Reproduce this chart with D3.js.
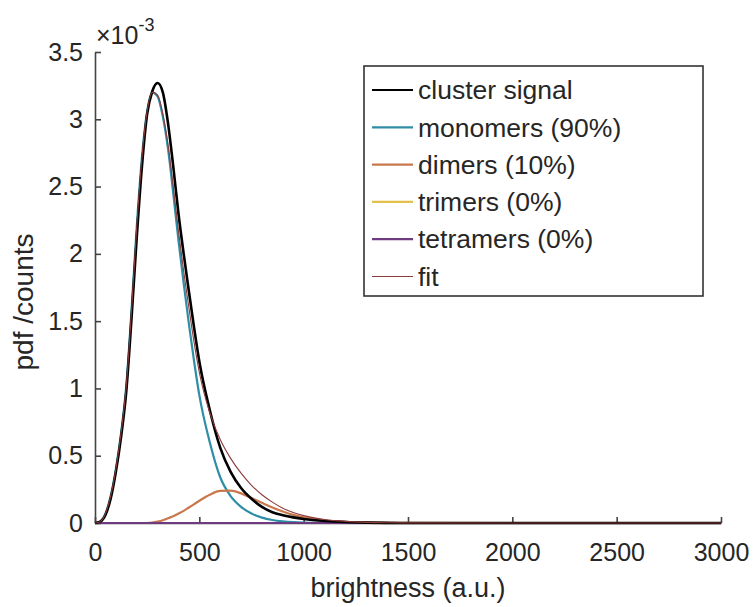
<!DOCTYPE html>
<html>
<head>
<meta charset="utf-8">
<script src="https://cdn.jsdelivr.net/npm/d3@7"></script>
<style>
  body { margin: 0; background: #fff; }
  text { font-family: "Liberation Sans", Arial, sans-serif; fill: #262626; }
</style>
</head>
<body>
<div id="chart"></div>
<script>
// brightness grid (a.u.)
var brightness = [0, 25, 50, 75, 100, 125, 150, 175, 200, 225, 250, 275, 300, 325, 350, 375, 400, 425, 450, 475, 500,
  550, 600, 650, 700, 750, 800, 850, 900, 950, 1000, 1100, 1200, 1300, 1400, 1500, 2000, 2500, 3000];

// pdf values, x 1e-3
var clusterSignal = [0, 0.01, 0.06, 0.18, 0.38, 0.64, 0.98, 1.52, 2.12, 2.65, 3.04, 3.21, 3.27, 3.2, 2.97, 2.65, 2.3, 2.0, 1.72, 1.45, 1.2,
  0.84, 0.56, 0.38, 0.26, 0.18, 0.12, 0.08, 0.058, 0.042, 0.03, 0.015, 0.007, 0.003, 0.001, 0, 0, 0, 0];
var monomers = [0, 0.01, 0.07, 0.2, 0.4, 0.67, 1.02, 1.58, 2.2, 2.72, 3.06, 3.2, 3.17, 3.02, 2.78, 2.45, 2.1, 1.78, 1.48, 1.2, 0.95,
  0.6, 0.34, 0.2, 0.12, 0.07, 0.04, 0.022, 0.012, 0.006, 0.003, 0.001, 0, 0, 0, 0, 0, 0, 0];
var dimers = [0, 0, 0, 0, 0, 0, 0, 0, 0, 0, 0, 0.003, 0.01, 0.02, 0.035, 0.05, 0.07, 0.09, 0.115, 0.14, 0.165,
  0.21, 0.238, 0.24, 0.22, 0.185, 0.15, 0.115, 0.085, 0.06, 0.042, 0.02, 0.009, 0.004, 0.0015, 0.0005, 0, 0, 0];
var trimers = brightness.map(function() { return 0; });
var tetramers = brightness.map(function() { return 0; });
var fit = [0, 0.01, 0.07, 0.2, 0.4, 0.67, 1.02, 1.58, 2.2, 2.72, 3.06, 3.2, 3.18, 3.04, 2.81, 2.5, 2.17, 1.87, 1.6, 1.34, 1.12,
  0.82, 0.62, 0.48, 0.37, 0.28, 0.21, 0.155, 0.11, 0.078, 0.055, 0.026, 0.012, 0.005, 0.002, 0.0007, 0, 0, 0];

var xTicks = [0, 500, 1000, 1500, 2000, 2500, 3000];
var yTicks = [0, 0.5, 1, 1.5, 2, 2.5, 3, 3.5];

var series = [
  {name: "cluster signal", values: clusterSignal, color: "#000000", width: 2.6, z: 4},
  {name: "monomers (90%)", values: monomers, color: "#2f8ea6", width: 2.2, z: 0},
  {name: "dimers (10%)", values: dimers, color: "#c8784c", width: 2.2, z: 1},
  {name: "trimers (0%)", values: trimers, color: "#e2c04a", width: 2.2, z: 2},
  {name: "tetramers (0%)", values: tetramers, color: "#6e3a80", width: 2.2, z: 3},
  {name: "fit", values: fit, color: "#8c3b3b", width: 1.1, z: 5}
];

var width = 753, height = 607;
var plotLeft = 95, plotRight = 721, plotTop = 52, plotBottom = 523;

var svg = d3.select("#chart")
  .append("svg")
  .attr("width", width)
  .attr("height", height);

var x = d3.scaleLinear().domain([0, 3000]).range([plotLeft, plotRight]);
var y = d3.scaleLinear().domain([0, 3.5]).range([plotBottom, plotTop]);

// axes (box off, ticks inward)
var xAxis = svg.append("g")
  .attr("transform", "translate(0," + plotBottom + ")")
  .call(d3.axisBottom(x).tickValues(xTicks).tickSizeInner(-6).tickSizeOuter(0).tickPadding(20)
    .tickFormat(d3.format("d")));
var yAxis = svg.append("g")
  .attr("transform", "translate(" + plotLeft + ",0)")
  .call(d3.axisLeft(y).tickValues(yTicks).tickSizeInner(-6).tickSizeOuter(0).tickPadding(12)
    .tickFormat(function(d) { return String(d); }));

[xAxis, yAxis].forEach(function(g) {
  g.select(".domain").attr("stroke", "#444").attr("stroke-width", 1.6);
  g.selectAll(".tick line").attr("stroke", "#444").attr("stroke-width", 1.6);
  g.selectAll(".tick text").attr("font-size", 25).attr("fill", "#262626")
    .style("font-family", "'Liberation Sans', Arial, sans-serif");
});

// curves
var line = d3.line()
  .x(function(d, i) { return x(brightness[i]); })
  .y(function(d) { return y(d); })
  .curve(d3.curveMonotoneX);

svg.selectAll(".series")
  .data(series.slice().sort(function(a, b) { return a.z - b.z; }))
  .enter().append("path")
  .attr("class", "series")
  .attr("fill", "none")
  .attr("stroke", function(d) { return d.color; })
  .attr("stroke-width", function(d) { return d.width; })
  .attr("stroke-linejoin", "round")
  .attr("d", function(d) { return line(d.values); });

// exponent
var expo = svg.append("text")
  .attr("x", 96)
  .attr("y", 44)
  .attr("font-size", 25);
expo.append("tspan").text("\u00d710");
expo.append("tspan").attr("dy", -13).attr("font-size", 18).text("-3");

// axis labels
svg.append("text")
  .attr("x", (plotLeft + plotRight) / 2)
  .attr("y", 597)
  .attr("text-anchor", "middle")
  .attr("font-size", 27)
  .text("brightness (a.u.)");

svg.append("text")
  .attr("transform", "translate(33,302) rotate(-90)")
  .attr("text-anchor", "middle")
  .attr("font-size", 28)
  .text("pdf /counts");

// legend
var legend = svg.append("g");
legend.append("rect")
  .attr("x", 364).attr("y", 66)
  .attr("width", 339).attr("height", 230)
  .attr("fill", "#fff")
  .attr("stroke", "#333")
  .attr("stroke-width", 1.6);

var rows = legend.selectAll(".row")
  .data(series)
  .enter().append("g")
  .attr("class", "row")
  .attr("transform", function(d, i) { return "translate(0," + (90 + i * 37.3) + ")"; });

rows.append("line")
  .attr("x1", 372).attr("x2", 413)
  .attr("y1", 0).attr("y2", 0)
  .attr("stroke", function(d) { return d.color; })
  .attr("stroke-width", function(d) { return d.name === "fit" ? 1.2 : 2.2; });

rows.append("text")
  .attr("x", 418)
  .attr("dy", "0.35em")
  .attr("font-size", 26.5)
  .text(function(d) { return d.name; });
</script>
</body>
</html>
